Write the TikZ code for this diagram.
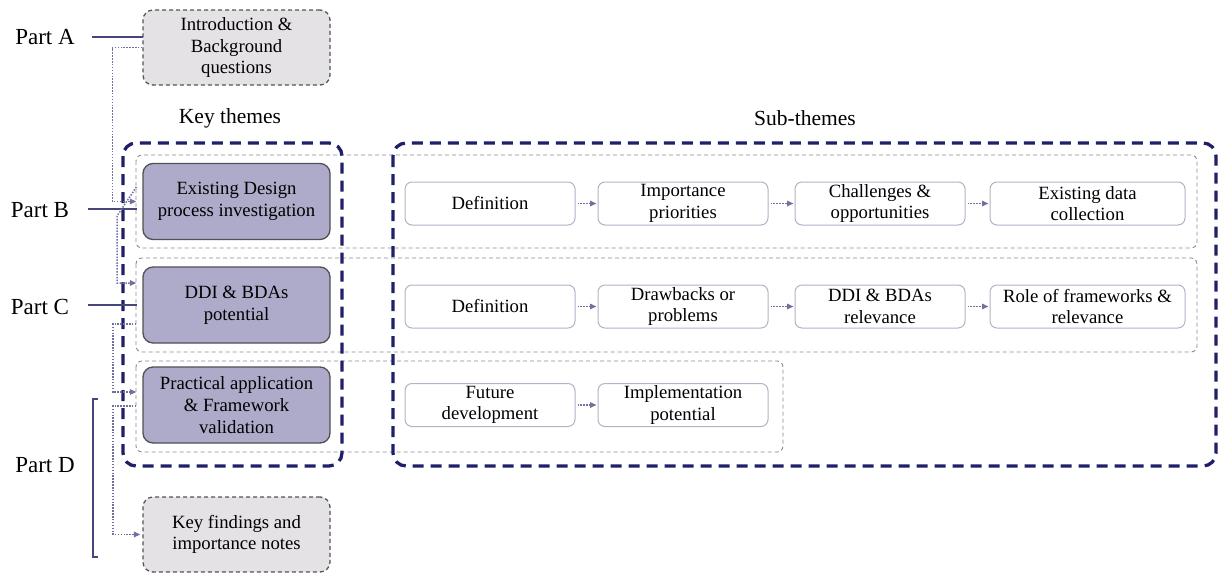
\documentclass[tikz,border=0pt]{standalone}
\usepackage{fontspec}
\setmainfont{Liberation Serif}
\usetikzlibrary{arrows.meta}
\definecolor{navy}{RGB}{32,32,105}
\definecolor{partline}{RGB}{70,70,125}
\definecolor{keyfill}{RGB}{174,170,202}
\definecolor{keyborder}{RGB}{80,80,85}
\definecolor{greyfill}{RGB}{228,226,229}
\definecolor{greyborder}{RGB}{85,85,90}
\definecolor{subborder}{RGB}{180,178,198}
\definecolor{dotcol}{RGB}{115,112,160}
\definecolor{framecol}{RGB}{140,140,145}
\begin{document}
\begin{tikzpicture}[x=1pt,y=-1pt,
  font=\fontsize{18.7}{21.7}\selectfont,
  keybox/.style={draw=keyborder, fill=keyfill, line width=1.3pt, rounded corners=10pt,
    minimum width=187pt, minimum height=76pt, align=center, inner sep=2pt},
  greybox/.style={draw=greyborder, fill=greyfill, line width=1.3pt, dash pattern=on 4pt off 3pt,
    rounded corners=10pt, minimum width=187pt, minimum height=75pt, align=center, inner sep=2pt},
  subbox/.style={draw=subborder, fill=white, line width=1pt, rounded corners=7pt,
    minimum width=170pt, minimum height=43pt, align=center, inner sep=1pt},
  frame/.style={draw=framecol, line width=0.9pt, dash pattern=on 4pt off 3pt, rounded corners=6pt},
  navybox/.style={draw=navy, line width=3.3pt, dash pattern=on 11pt off 7pt, rounded corners=13pt},
  dotc/.style={draw=dotcol, line width=1.5pt, dash pattern=on 1.5pt off 1.4pt,
    -{Triangle[length=6.5pt,width=5.5pt,fill=dotcol]}},
  partl/.style={draw=partline, line width=1.4pt},
  lbl/.style={inner sep=0pt, font=\fontsize{23}{27}\selectfont},
  head/.style={inner sep=0pt, font=\fontsize{21.5}{25}\selectfont}
]
\useasboundingbox (0,0) rectangle (1219,574);

% row frames
\draw[frame] (136,155) rectangle (1197,248);
\draw[frame] (136,258) rectangle (1197,352);
\draw[frame] (136,361) rectangle (783,452);

% large navy boxes
\draw[navybox] (123,143) rectangle (342,466);
\draw[navybox] (393,143) rectangle (1216,466);

% headings
\node[head] (kt) at (230,118) {Key themes};
\node[head] (st) at (805,118) {Sub-themes};

% key theme nodes
\node[greybox] (intro) at (236.5,47.5) {Introduction \&\\Background\\questions};
\node[keybox] (exist) at (236.5,201.5) {Existing Design\\process investigation};
\node[keybox] (ddi) at (236.5,305) {DDI \& BDAs\\potential};
\node[keybox] (prac) at (236.5,405) {Practical application\\\& Framework\\validation};
\node[greybox] (kf) at (236.5,534.5) {Key findings and\\importance notes};

% part labels
\node[lbl] (pa) at (45,37) {Part A};
\node[lbl] (pb) at (40,210) {Part B};
\node[lbl] (pc) at (40,307) {Part C};
\node[lbl] (pd) at (45,465) {Part D};

\draw[partl] (pa.east -| 92,0) -- (143,37);
\draw[partl] (88,209) -- (137,209);
\draw[partl] (88,305) -- (137,305);
\coordinate (dtop) at (93,399);
\coordinate (dbot) at (93,557);
\draw[partl, line width=1.2pt] ([xshift=5pt]dtop) -- (dtop) -- (dbot) -- ([xshift=5pt]dbot);

% dotted flow connectors on the left
\draw[dotc] (intro.west) -- ++(-30,0) |- ([xshift=-6pt]exist.west);
\draw[dotc] ([xshift=-6pt,yshift=14.5pt]exist.west) -- (117,216) |- ([xshift=-6pt,yshift=22pt]ddi.west);
\draw[dotc] ([xshift=-6pt,yshift=-19pt]ddi.west) -- (113,324) |- ([xshift=-6pt,yshift=13pt]prac.west);
\draw[dotc] ([xshift=-6pt,yshift=-1pt]prac.west) -- (113,406) |- ([xshift=-2pt]kf.west);

% sub-theme rows
\node[subbox] (d1) at (490,203.5) {Definition};
\node[subbox] (ip) at (683,203.5) {Importance\\priorities};
\node[subbox] (co) at (880,203.5) {Challenges \&\\opportunities};
\node[subbox, minimum width=195pt] (ed) at (1087.5,203.5) {Existing data\\collection};

\node[subbox] (d2) at (490,306.5) {Definition};
\node[subbox] (dp) at (683,306.5) {Drawbacks or\\problems};
\node[subbox] (dr) at (880,306.5) {DDI \& BDAs\\relevance};
\node[subbox, minimum width=195pt] (rf) at (1087.5,306.5) {Role of frameworks \&\\relevance};

\node[subbox] (fd) at (490,405) {Future\\development};
\node[subbox] (imp) at (683,405) {Implementation\\potential};

\foreach \a/\b in {d1/ip, ip/co, co/ed, d2/dp, dp/dr, dr/rf, fd/imp}
  \draw[dotc, shorten <=2pt, shorten >=1pt] (\a) -- (\b);
\end{tikzpicture}
\end{document}
